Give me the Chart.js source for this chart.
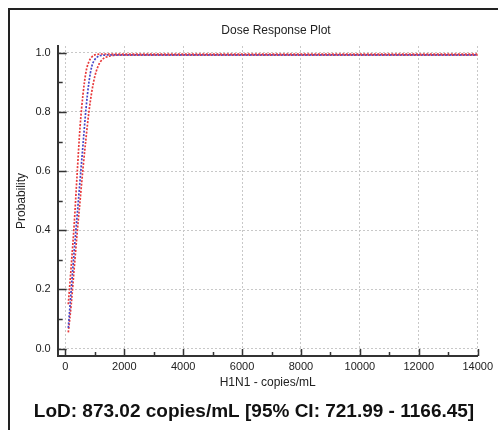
<!DOCTYPE html>
<html>
<head>
<meta charset="utf-8">
<script src="https://cdn.jsdelivr.net/npm/chart.js@4"></script>
<style>
  html, body { margin: 0; background: #fff; overflow: hidden; }
  #frame { position: absolute; left: 8px; top: 8px; width: 490px; height: 422px;
           border-left: 2px solid #222; border-top: 2px solid #222; box-sizing: border-box; }
  #wrap { position: absolute; left: 0; top: 0; width: 498px; height: 430px; }
</style>
</head>
<body>
<div id="frame"></div>
<div id="wrap"><canvas id="doseChart"></canvas></div>
<script>
const doses = [100, 200, 300, 400, 500, 600, 700, 800, 900, 1000, 1100, 1200, 1300, 1400, 1500, 1600, 1800, 2000, 4000, 6000, 8000, 10000, 12000, 14000];
const fitProb = [0.07, 0.2, 0.33, 0.45, 0.57, 0.69, 0.81, 0.9, 0.955, 0.977, 0.987, 0.991, 0.992, 0.993, 0.993, 0.993, 0.993, 0.993, 0.993, 0.993, 0.993, 0.993, 0.993, 0.993];
const upperProb = [0.15, 0.28, 0.42, 0.59, 0.75, 0.86, 0.935, 0.97, 0.986, 0.993, 0.995, 0.996, 0.996, 0.996, 0.996, 0.996, 0.996, 0.996, 0.996, 0.996, 0.996, 0.996, 0.996, 0.996];
const lowerProb = [0.055, 0.15, 0.27, 0.39, 0.5, 0.61, 0.71, 0.8, 0.87, 0.92, 0.952, 0.971, 0.981, 0.986, 0.989, 0.991, 0.992, 0.992, 0.992, 0.992, 0.992, 0.992, 0.992, 0.992];
const xTicks = [0, 2000, 4000, 6000, 8000, 10000, 12000, 14000];
const yTicks = [0, 0.2, 0.4, 0.6, 0.8, 1.0];

const pts = arr => doses.map((d, i) => ({ x: d, y: arr[i] }));

// inward tick marks (major + minor) and the free-standing texts
const extras = {
  id: 'extras',
  afterDraw(chart) {
    const ctx = chart.ctx, xs = chart.scales.x, ys = chart.scales.y;
    const area = chart.chartArea;
    ctx.save();
    ctx.strokeStyle = '#333';
    ctx.lineWidth = 1.5;
    ctx.beginPath();
    for (let v = 0; v <= 1.0001; v += 0.1) {
      const y = Math.round(ys.getPixelForValue(v)) + 0.5;
      const major = Math.round(v * 10) % 2 === 0;
      ctx.moveTo(area.left, y);
      ctx.lineTo(area.left + (major ? 9 : 5), y);
    }
    for (let v = 0; v <= 14000; v += 1000) {
      const x = Math.round(xs.getPixelForValue(v)) + 0.5;
      const major = v % 2000 === 0;
      ctx.moveTo(x, area.bottom);
      ctx.lineTo(x, area.bottom - (major ? 7 : 4));
    }
    ctx.stroke();

    ctx.fillStyle = '#222';
    ctx.textAlign = 'center';
    ctx.textBaseline = 'middle';
    ctx.font = '12px "Liberation Sans", Arial, sans-serif';
    ctx.fillText('Dose Response Plot', 276, 31);
    ctx.font = 'bold 19px "Liberation Sans", Arial, sans-serif';
    ctx.fillStyle = '#111';
    ctx.fillText('LoD: 873.02 copies/mL [95% CI: 721.99 - 1166.45]', 254, 412);
    ctx.restore();
  }
};

const dotted = [2, 1.5];

new Chart(document.getElementById('doseChart'), {
  type: 'line',
  data: {
    datasets: [
      { label: 'Upper 95% CI', data: pts(upperProb), borderColor: '#e8393a', borderWidth: 1.7, borderDash: dotted, pointRadius: 0, cubicInterpolationMode: 'monotone', fill: false },
      { label: 'Fit', data: pts(fitProb), borderColor: '#4646c8', borderWidth: 1.7, borderDash: dotted, pointRadius: 0, cubicInterpolationMode: 'monotone', fill: false },
      { label: 'Lower 95% CI', data: pts(lowerProb), borderColor: '#e8393a', borderWidth: 1.7, borderDash: dotted, pointRadius: 0, cubicInterpolationMode: 'monotone', fill: false }
    ]
  },
  plugins: [extras],
  options: {
    responsive: true,
    maintainAspectRatio: false,
    animation: false,
    layout: { padding: { left: 3, right: 16, top: 46, bottom: 41 } },
    scales: {
      x: {
        type: 'linear',
        min: -260,
        max: 14000,
        afterBuildTicks: s => { s.ticks = xTicks.map(v => ({ value: v })); },
        ticks: { color: '#222', padding: 5, maxRotation: 0, callback: v => String(v), font: { size: 11, lineHeight: 1.0, family: '"Liberation Sans", Arial' } },
        grid: { color: '#c8c8c8', lineWidth: 1, drawTicks: false },
        border: { display: true, color: '#333', width: 2, dash: [2, 2] },
        title: { display: true, text: 'H1N1 - copies/mL', color: '#222', padding: { top: 0, bottom: 0 }, font: { size: 12, lineHeight: 1.0, family: '"Liberation Sans", Arial' } }
      },
      y: {
        min: -0.025,
        max: 1.023,
        afterBuildTicks: s => { s.ticks = yTicks.map(v => ({ value: v })); },
        ticks: { color: '#222', padding: 7, callback: v => v.toFixed(1), font: { size: 11, family: '"Liberation Sans", Arial' } },
        grid: { color: '#c8c8c8', lineWidth: 1, drawTicks: false },
        border: { display: true, color: '#333', width: 2, dash: [2, 2] },
        title: { display: true, text: 'Probability', color: '#222', padding: { top: 11, bottom: 0 }, font: { size: 12, family: '"Liberation Sans", Arial' } }
      }
    },
    plugins: {
      legend: { display: false },
      title: { display: false },
      tooltip: { enabled: false }
    }
  }
});
</script>
</body>
</html>
